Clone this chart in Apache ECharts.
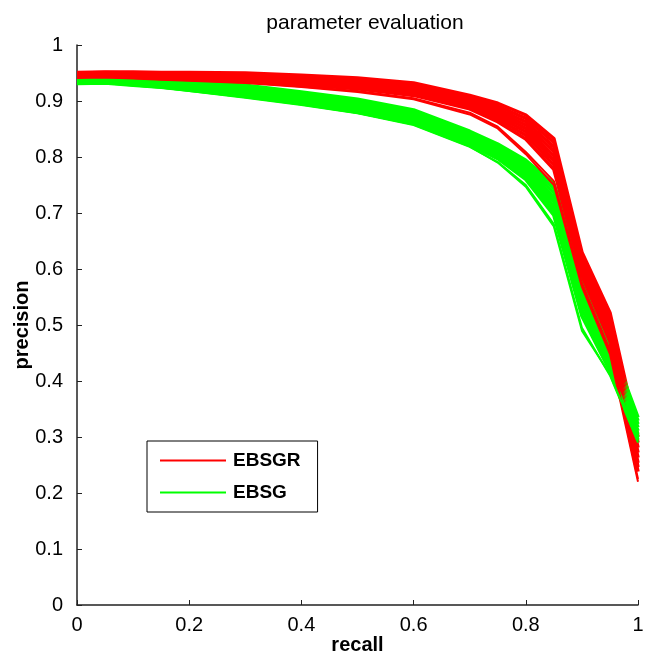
<!DOCTYPE html>
<html>
<head>
<meta charset="utf-8">
<script src="https://cdn.jsdelivr.net/npm/echarts@6/dist/echarts.min.js"></script>
<style>html,body{margin:0;padding:0;background:#fff}#c{width:645px;height:661px}</style>
</head>
<body>
<div id="c"></div>
<script>
// recall sample points
var recall = [0, 0.05, 0.1, 0.15, 0.2, 0.3, 0.4, 0.5, 0.6, 0.7, 0.75, 0.8, 0.85, 0.9, 0.95, 1];

// EBSGR runs (precision values); last two are the thin outlier runs
var ebsgrCurves = [
  [0.951,0.952,0.952,0.951,0.951,0.950,0.946,0.941,0.932,0.910,0.896,0.875,0.833,0.630,0.522,0.300],
  [0.950,0.951,0.950,0.950,0.949,0.947,0.943,0.938,0.929,0.906,0.891,0.869,0.826,0.624,0.515,0.290],
  [0.949,0.950,0.949,0.948,0.947,0.945,0.941,0.935,0.926,0.903,0.886,0.863,0.818,0.618,0.507,0.281],
  [0.949,0.949,0.948,0.947,0.945,0.943,0.939,0.933,0.923,0.900,0.882,0.857,0.810,0.612,0.500,0.272],
  [0.948,0.948,0.947,0.945,0.944,0.941,0.936,0.930,0.920,0.897,0.878,0.851,0.802,0.606,0.493,0.263],
  [0.947,0.947,0.945,0.944,0.942,0.939,0.934,0.927,0.917,0.893,0.873,0.845,0.794,0.600,0.485,0.254],
  [0.946,0.946,0.944,0.942,0.940,0.937,0.931,0.925,0.914,0.889,0.868,0.839,0.786,0.594,0.478,0.246],
  [0.945,0.945,0.943,0.941,0.939,0.935,0.929,0.922,0.910,0.886,0.863,0.832,0.778,0.588,0.470,0.238],
  [0.943,0.943,0.941,0.939,0.937,0.933,0.926,0.918,0.905,0.879,0.854,0.809,0.757,0.575,0.455,0.225],
  [0.941,0.942,0.940,0.938,0.936,0.932,0.925,0.916,0.903,0.876,0.851,0.805,0.750,0.568,0.448,0.220]
];

// EBSG runs (precision values); last two are the thin outlier runs
var ebsgCurves = [
  [0.946,0.946,0.945,0.940,0.935,0.928,0.916,0.903,0.884,0.846,0.823,0.794,0.752,0.600,0.470,0.335],
  [0.944,0.945,0.943,0.938,0.933,0.925,0.913,0.900,0.881,0.843,0.819,0.789,0.744,0.588,0.462,0.329],
  [0.942,0.943,0.941,0.936,0.931,0.922,0.910,0.897,0.877,0.839,0.815,0.784,0.736,0.576,0.455,0.323],
  [0.940,0.941,0.939,0.934,0.929,0.920,0.907,0.894,0.874,0.836,0.812,0.779,0.728,0.564,0.447,0.317],
  [0.938,0.939,0.936,0.932,0.927,0.917,0.904,0.890,0.870,0.832,0.808,0.774,0.720,0.552,0.440,0.311],
  [0.936,0.937,0.934,0.930,0.925,0.914,0.901,0.887,0.867,0.829,0.804,0.770,0.712,0.540,0.432,0.305],
  [0.934,0.935,0.932,0.928,0.922,0.911,0.898,0.884,0.863,0.825,0.801,0.765,0.704,0.528,0.425,0.300],
  [0.932,0.933,0.929,0.925,0.920,0.908,0.895,0.880,0.860,0.822,0.797,0.760,0.696,0.516,0.418,0.295],
  [0.930,0.931,0.927,0.923,0.918,0.906,0.893,0.878,0.857,0.818,0.791,0.750,0.680,0.495,0.410,0.290],
  [0.931,0.932,0.928,0.924,0.918,0.907,0.894,0.879,0.858,0.819,0.790,0.747,0.676,0.490,0.412,0.292]
];

var seriesNames = ['EBSGR', 'EBSG'];
var titleText = 'parameter evaluation';
var FONT = 'Liberation Sans, Arial, sans-serif';

function pairs(ys) { return ys.map(function (y, i) { return [recall[i], y]; }); }

var series = [];
var n = Math.max(ebsgrCurves.length, ebsgCurves.length);
for (var i = 0; i < n; i++) {
  var w = i >= n - 2 ? 2 : 3.5;
  if (ebsgrCurves[i]) series.push({
    name: seriesNames[0], type: 'line', data: pairs(ebsgrCurves[i]), symbol: 'none',
    lineStyle: { color: '#ff0000', width: w }, itemStyle: { color: '#ff0000' }, silent: true
  });
  if (ebsgCurves[i]) series.push({
    name: seriesNames[1], type: 'line', data: pairs(ebsgCurves[i]), symbol: 'none',
    lineStyle: { color: '#00ff00', width: w }, itemStyle: { color: '#00ff00' }, silent: true
  });
}

var chart = echarts.init(document.getElementById('c'), null, { renderer: 'canvas' });
var axisFont = { color: '#000', fontSize: 20, fontFamily: FONT };
chart.setOption({
  animation: false,
  backgroundColor: '#fff',
  title: {
    text: titleText, left: 360, top: 8, textAlign: 'center',
    textStyle: { color: '#000', fontSize: 21, fontWeight: 'normal', fontFamily: FONT }
  },
  grid: { left: 77, right: 7, top: 45, bottom: 56, containLabel: false, outerBoundsMode: 'none' },
  legend: {
    data: seriesNames, orient: 'vertical', left: 147, top: 441,
    padding: [10, 17, 10, 13], itemGap: 13, itemWidth: 66, itemHeight: 14,
    backgroundColor: '#fff', borderColor: '#000', borderWidth: 1, borderRadius: 0,
    icon: 'path://M0,6 L66,6 L66,8 L0,8 Z',
    textStyle: { color: '#000', fontSize: 19, fontWeight: 'bold', fontFamily: FONT, padding: [0, 0, 0, 2] },
    selectedMode: false
  },
  xAxis: {
    type: 'value', min: 0, max: 1, interval: 0.2,
    name: 'recall', nameLocation: 'middle', nameGap: 30, nameMoveOverlap: false,
    nameTextStyle: { color: '#000', fontSize: 20, fontWeight: 'bold', fontFamily: FONT },
    axisLine: { show: true, lineStyle: { color: '#222', width: 1.5 } },
    axisTick: { show: true, inside: true, length: 5, lineStyle: { color: '#222' } },
    axisLabel: Object.assign({ margin: 10 }, axisFont),
    splitLine: { show: false }
  },
  yAxis: {
    type: 'value', min: 0, max: 1, interval: 0.1,
    name: 'precision', nameLocation: 'middle', nameGap: 45, nameRotate: 90, nameMoveOverlap: false,
    nameTextStyle: { color: '#000', fontSize: 20, fontWeight: 'bold', fontFamily: FONT },
    axisLine: { show: true, lineStyle: { color: '#222', width: 1.5 } },
    axisTick: { show: true, inside: true, length: 5, lineStyle: { color: '#222' } },
    axisLabel: Object.assign({ margin: 14 }, axisFont),
    splitLine: { show: false }
  },
  series: series
});
</script>
</body>
</html>
